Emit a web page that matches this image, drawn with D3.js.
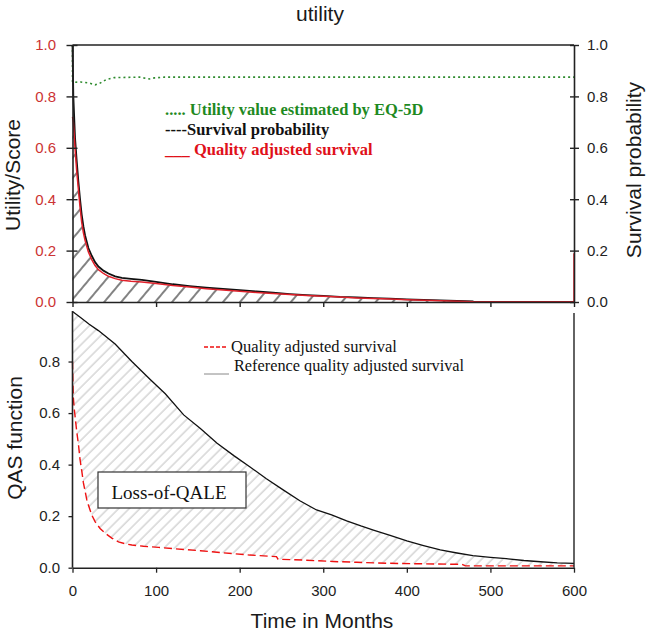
<!DOCTYPE html>
<html><head><meta charset="utf-8">
<script src="https://cdn.jsdelivr.net/npm/d3@7"></script>
<style>
body{margin:0;background:#fff;}
svg{display:block;}
.sans{font-family:"Liberation Sans",Arial,sans-serif;}
.serif{font-family:"Liberation Serif","Times New Roman",serif;}
</style></head>
<body><svg id="c" width="649" height="631"></svg>
<script>
// ---------- data ----------
const yTicks = [0, 0.2, 0.4, 0.6, 0.8, 1.0];
const yTicksBottom = [0, 0.2, 0.4, 0.6, 0.8];
const xTicks = [0, 100, 200, 300, 400, 500, 600];

// Top panel: utility (EQ-5D), survival probability, quality adjusted survival
const utilT =   [0, 0, 10, 20, 27, 32, 40, 50, 80, 92, 98, 110, 600];
const utilV =   [1.0, 0.855, 0.856, 0.852, 0.845, 0.85, 0.865, 0.873, 0.875, 0.868, 0.872, 0.875, 0.875];

const survT = [0, 1, 3, 5, 7, 9, 11, 13, 15, 19, 23, 27, 31, 37, 43, 51, 59, 70, 83, 100, 120, 140, 160, 180, 200, 220, 240, 260, 280, 300, 320, 340, 360, 380, 400, 420, 440, 460, 479, 480, 600];
const survV = [1.0, 0.80, 0.64, 0.55, 0.47, 0.40, 0.34, 0.295, 0.26, 0.21, 0.18, 0.155, 0.138, 0.122, 0.111, 0.10, 0.094, 0.09, 0.086, 0.078, 0.069, 0.062, 0.056, 0.051, 0.046, 0.041, 0.036, 0.031, 0.027, 0.024, 0.02, 0.018, 0.015, 0.013, 0.01, 0.008, 0.006, 0.004, 0.002, 0, 0];

const qasT = [0, 1, 3, 5, 7, 9, 11, 13, 15, 19, 23, 27, 31, 37, 43, 51, 59, 70, 83, 100, 120, 140, 160, 180, 200, 220, 240, 260, 280, 300, 320, 340, 360, 380, 400, 420, 440, 460, 479, 480, 600, 600];
const qasV = [0.72, 0.70, 0.60, 0.51, 0.44, 0.37, 0.31, 0.27, 0.24, 0.195, 0.165, 0.142, 0.126, 0.111, 0.1, 0.091, 0.085, 0.081, 0.078, 0.072, 0.064, 0.058, 0.052, 0.047, 0.042, 0.037, 0.033, 0.029, 0.025, 0.022, 0.019, 0.016, 0.014, 0.012, 0.009, 0.007, 0.005, 0.003, 0.001, 0, 0, 0.19];

// Bottom panel: reference QAS and observed QAS
const refT = [0, 10, 20, 31, 51, 71, 93, 111, 133, 153, 173, 193, 212, 232, 252, 272, 292, 310, 328, 345, 360, 380, 400, 420, 440, 460, 479, 500, 519, 540, 560, 580, 600];
const refV = [0.994, 0.97, 0.945, 0.92, 0.868, 0.80, 0.73, 0.675, 0.593, 0.54, 0.483, 0.435, 0.392, 0.345, 0.302, 0.26, 0.224, 0.205, 0.182, 0.162, 0.146, 0.125, 0.104, 0.086, 0.069, 0.057, 0.047, 0.04, 0.035, 0.028, 0.023, 0.019, 0.017];

const obsT = [0, 0.5, 1, 2, 3.3, 5, 7.2, 9, 11.2, 13, 15.2, 17, 19, 23, 27, 33, 39, 47, 55, 63, 71, 85, 103, 120, 153, 180, 212, 244, 246, 280, 312, 340, 380, 420, 466, 470, 600];
const obsV = [0.80, 0.72, 0.66, 0.62, 0.58, 0.53, 0.476, 0.42, 0.373, 0.33, 0.295, 0.265, 0.243, 0.205, 0.179, 0.152, 0.134, 0.115, 0.10, 0.093, 0.088, 0.083, 0.079, 0.074, 0.066, 0.058, 0.049, 0.043, 0.033, 0.029, 0.024, 0.021, 0.017, 0.015, 0.013, 0.007, 0.007];

// ---------- drawing ----------
const svg = d3.select("#c");
const zip = (T, V) => T.map((t, i) => ({t, v: V[i]}));
const util = zip(utilT, utilV), surv = zip(survT, survV), qas = zip(qasT, qasV);
const ref = zip(refT, refV), obs = zip(obsT, obsV);

const x = d3.scaleLinear([0, 600], [72.5, 574]);
const yT = d3.scaleLinear([0, 1], [302, 45]);
const yB = d3.scaleLinear([0, 1], [567.7, 310]);

const defs = svg.append("defs");
const p1 = defs.append("pattern").attr("id", "hatchTop").attr("patternUnits", "userSpaceOnUse")
  .attr("width", 13).attr("height", 13).attr("patternTransform", "rotate(40)");
p1.append("line").attr("x1", 1).attr("x2", 1).attr("y1", 0).attr("y2", 13).attr("stroke", "#1a1a1a").attr("stroke-width", 1.1);
const p2 = defs.append("pattern").attr("id", "hatchBot").attr("patternUnits", "userSpaceOnUse")
  .attr("width", 7.5).attr("height", 7.5).attr("patternTransform", "rotate(45)");
p2.append("line").attr("x1", 1).attr("x2", 1).attr("y1", 0).attr("y2", 7.5).attr("stroke", "#b0b0b0").attr("stroke-width", 0.8);

// title
svg.append("text").attr("class", "sans").attr("x", 320).attr("y", 21).attr("text-anchor", "middle")
  .attr("font-size", 21).attr("fill", "#1a1a1a").text("utility");

// ----- top panel -----
const areaTop = d3.area().x(d => x(d.t)).y0(yT(0)).y1(d => yT(d.v));
svg.append("path").datum(qas).attr("d", areaTop).attr("fill", "url(#hatchTop)");

const lineT = d3.line().x(d => x(d.t)).y(d => yT(d.v));
svg.append("path").datum(util).attr("d", lineT).attr("fill", "none")
  .attr("stroke", "#2e8b2e").attr("stroke-width", 1.6).attr("stroke-dasharray", "2,3");
svg.append("path").datum(surv).attr("d", lineT).attr("fill", "none")
  .attr("stroke", "#111").attr("stroke-width", 1.8);
svg.append("path").datum(qas).attr("d", lineT).attr("fill", "none")
  .attr("stroke", "#e0202a").attr("stroke-width", 1.5);

// frame top
svg.append("line").attr("x1", x(0)).attr("x2", x(600)).attr("y1", yT(1)).attr("y2", yT(1))
  .attr("stroke", "#222").attr("stroke-width", 1.6);

const gLT = svg.append("g").attr("transform", `translate(${x(0)},0)`).attr("class", "sans")
  .call(d3.axisLeft(yT).tickValues(yTicks).tickFormat(d3.format(".1f")).tickSize(6).tickSizeOuter(0).tickPadding(10.5));
gLT.selectAll(".tick line").attr("x1", 5);
gLT.selectAll("text").attr("fill", "#cc3333").attr("font-size", 15);

const gRT = svg.append("g").attr("transform", `translate(${x(600)},0)`).attr("class", "sans")
  .call(d3.axisRight(yT).tickValues(yTicks).tickFormat(d3.format(".1f")).tickSize(5).tickSizeOuter(0).tickPadding(8));
gRT.selectAll(".tick line").attr("x1", -4);
gRT.selectAll("text").attr("fill", "#222").attr("font-size", 15);

const gBT = svg.append("g").attr("transform", `translate(0,${yT(0)})`)
  .call(d3.axisBottom(x).tickValues(xTicks).tickFormat("").tickSize(5).tickSizeOuter(0));

[gLT, gRT, gBT].forEach(g => {
  g.select(".domain").attr("stroke", "#222").attr("stroke-width", 1.6);
  g.selectAll(".tick line").attr("stroke", "#222").attr("stroke-width", 1.4);
});

svg.append("text").attr("class", "sans").attr("transform", "translate(20,175) rotate(-90)")
  .attr("text-anchor", "middle").attr("font-size", 21).attr("fill", "#1a1a1a").text("Utility/Score");
svg.append("text").attr("class", "sans").attr("transform", "translate(641,170) rotate(-90)")
  .attr("text-anchor", "middle").attr("font-size", 21).attr("fill", "#1a1a1a").text("Survival probability");

// top legend
const legTop = [
  {txt: "..... Utility value estimated by EQ-5D", c: "#1f8a1f", y: 115},
  {txt: "----Survival probability", c: "#111", y: 135},
  {txt: "___ Quality adjusted survival", c: "#e0101a", y: 155}
];
svg.selectAll(".legT").data(legTop).join("text").attr("class", "serif")
  .attr("x", 165).attr("y", d => d.y).attr("font-size", 16.5).attr("font-weight", "bold")
  .attr("fill", d => d.c).text(d => d.txt);

// ----- bottom panel -----
const lineB = d3.line().x(d => x(d.t)).y(d => yB(d.v));
const poly = ref.concat(obs.slice().reverse());
svg.append("path").attr("d", lineB(poly) + "Z").attr("fill", "url(#hatchBot)");

svg.append("path").datum(ref).attr("d", lineB).attr("fill", "none")
  .attr("stroke", "#111").attr("stroke-width", 1.3);
svg.append("path").datum(obs).attr("d", lineB).attr("fill", "none")
  .attr("stroke", "#ee1111").attr("stroke-width", 1.4).attr("stroke-dasharray", "8,4");

// right border bottom panel
svg.append("line").attr("x1", x(600)).attr("x2", x(600)).attr("y1", 313).attr("y2", yB(0))
  .attr("stroke", "#222").attr("stroke-width", 1.4);

const gLB = svg.append("g").attr("transform", `translate(${x(0)},0)`).attr("class", "sans")
  .call(d3.axisLeft(yB).tickValues(yTicksBottom).tickFormat(d3.format(".1f")).tickSize(4).tickSizeOuter(0).tickPadding(8.5));
gLB.select(".domain").attr("d", `M0,${yB(0)}V311`);
gLB.selectAll("text").attr("fill", "#222").attr("font-size", 15);

const gBB = svg.append("g").attr("transform", `translate(0,${yB(0)})`).attr("class", "sans")
  .call(d3.axisBottom(x).tickValues(xTicks).tickSize(5).tickSizeOuter(0).tickPadding(13));
gBB.selectAll("text").attr("fill", "#222").attr("font-size", 15);

[gLB, gBB].forEach(g => {
  g.select(".domain").attr("stroke", "#222").attr("stroke-width", 1.6);
  g.selectAll(".tick line").attr("stroke", "#222").attr("stroke-width", 1.3);
});

svg.append("text").attr("class", "sans").attr("transform", "translate(21.5,438) rotate(-90)")
  .attr("text-anchor", "middle").attr("font-size", 21).attr("fill", "#1a1a1a").text("QAS function");
svg.append("text").attr("class", "sans").attr("x", 322).attr("y", 628).attr("text-anchor", "middle")
  .attr("font-size", 21).attr("fill", "#1a1a1a").text("Time in Months");

// bottom legend
svg.append("line").attr("x1", 204).attr("x2", 228).attr("y1", 347).attr("y2", 347)
  .attr("stroke", "#ee1111").attr("stroke-width", 1.4).attr("stroke-dasharray", "4,2");
svg.append("text").attr("class", "serif").attr("x", 231).attr("y", 352).attr("font-size", 16.5)
  .attr("fill", "#111").text("Quality adjusted survival");
svg.append("line").attr("x1", 204).attr("x2", 229).attr("y1", 374).attr("y2", 374)
  .attr("stroke", "#888").attr("stroke-width", 1);
svg.append("text").attr("class", "serif").attr("x", 234).attr("y", 371).attr("font-size", 16.3)
  .attr("fill", "#111").text("Reference quality adjusted survival");

// Loss-of-QALE box
svg.append("rect").attr("x", 98).attr("y", 472).attr("width", 148).attr("height", 36)
  .attr("fill", "#fff").attr("stroke", "#333").attr("stroke-width", 1.2);
svg.append("text").attr("class", "serif").attr("x", 169).attr("y", 499).attr("text-anchor", "middle")
  .attr("font-size", 19).attr("fill", "#111").text("Loss-of-QALE");
</script></body></html>
